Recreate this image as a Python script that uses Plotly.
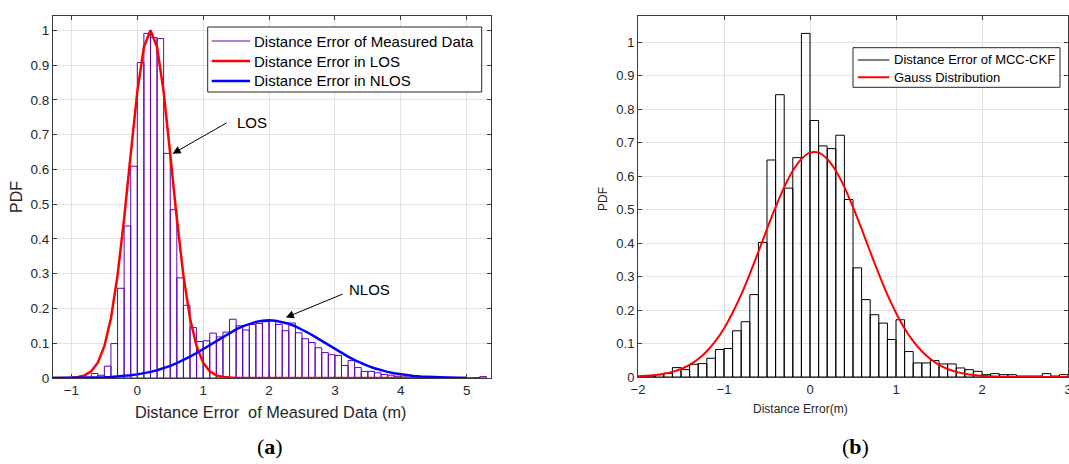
import numpy as np
import plotly.graph_objects as go

# ---------------- data: panel (a) ----------------
a_bin_left = np.round(np.arange(-0.7, 5.25, 0.1), 2)   # bin left edges, width 0.1
a_hist = [0.013, 0.008, 0.034, 0.099, 0.258, 0.437, 0.609, 0.907, 0.991, 0.979,
          0.976, 0.646, 0.484, 0.288, 0.209, 0.145, 0.105, 0.107, 0.129, 0.118,
          0.132, 0.169, 0.150, 0.138, 0.154, 0.157, 0.162, 0.165, 0.154, 0.136,
          0.158, 0.130, 0.113, 0.102, 0.087, 0.073, 0.067, 0.065, 0.036, 0.050,
          0.030, 0.019, 0.019, 0.015, 0.010, 0.008, 0.005, 0.003, 0.002, 0.002,
          0.001, 0.001, 0.001, 0.0, 0.0, 0.0, 0.0, 0.0, 0.001, 0.004]
a_curve_x = np.round(np.arange(-1.3, 5.01, 0.1), 2)
a_los = [0.0, 0.0001, 0.0003, 0.0009, 0.0027, 0.0076, 0.0192, 0.0439, 0.0914, 0.172,
         0.295, 0.458, 0.644, 0.823, 0.952, 1.0, 0.952, 0.823, 0.644, 0.458,
         0.295, 0.172, 0.0914, 0.0439, 0.0192, 0.0076, 0.0027, 0.0009, 0.0003, 0.0001] + [0.0] * 34
a_nlos = [0.0001, 0.0001, 0.0002, 0.0003, 0.0005, 0.0007, 0.0011, 0.0015, 0.0022, 0.0031,
          0.0043, 0.0058, 0.0078, 0.0104, 0.0136, 0.0176, 0.0225, 0.0282, 0.0350, 0.0428,
          0.0515, 0.0613, 0.0719, 0.0831, 0.0948, 0.1066, 0.1183, 0.1294, 0.1396, 0.1486,
          0.1560, 0.1615, 0.1649, 0.166, 0.1649, 0.1615, 0.1560, 0.1486, 0.1396, 0.1294,
          0.1183, 0.1066, 0.0948, 0.0831, 0.0719, 0.0613, 0.0515, 0.0428, 0.0350, 0.0282,
          0.0225, 0.0176, 0.0136, 0.0104, 0.0078, 0.0058, 0.0043, 0.0031, 0.0022, 0.0015,
          0.0011, 0.0007, 0.0005, 0.0003]
a_legend = ["Distance Error of Measured Data", "Distance Error in LOS", "Distance Error in NLOS"]

# ---------------- data: panel (b) ----------------
b_bin_left = np.round(np.arange(-2.0, 2.95, 0.1), 2)
b_hist = [0.002, 0.003, 0.007, 0.011, 0.028, 0.022, 0.038, 0.040, 0.056, 0.082,
          0.085, 0.138, 0.165, 0.246, 0.402, 0.648, 0.843, 0.564, 0.655, 1.026,
          0.766, 0.690, 0.682, 0.722, 0.530, 0.326, 0.231, 0.186, 0.161, 0.112,
          0.171, 0.076, 0.042, 0.042, 0.049, 0.039, 0.039, 0.027, 0.022, 0.017,
          0.007, 0.010, 0.007, 0.007, 0.003, 0.003, 0.003, 0.010, 0.003, 0.007]
b_curve_x = np.round(np.arange(-2.0, 3.01, 0.1), 2)
b_gauss = [0.0020, 0.0034, 0.0058, 0.0096, 0.0153, 0.0239, 0.0362, 0.0535, 0.0767, 0.107,
           0.145, 0.192, 0.246, 0.308, 0.374, 0.442, 0.507, 0.567, 0.616, 0.651,
           0.670, 0.670, 0.651, 0.616, 0.567, 0.507, 0.442, 0.374, 0.308, 0.246,
           0.192, 0.145, 0.107, 0.0767, 0.0535, 0.0362, 0.0239, 0.0153, 0.0096, 0.0058,
           0.0034, 0.0020, 0.0011, 0.0006, 0.0003, 0.0002, 0.0001, 0.0, 0.0, 0.0, 0.0]
b_legend = ["Distance Error of MCC-CKF", "Gauss Distribution"]

PURPLE = "#5c00b8"
FONT = "Liberation Sans"
AX = "#3a3a3a"
GRID = "#e2e2e2"
TXT = "#262626"

fig = go.Figure()

# panel (a)
fig.add_trace(go.Bar(x=a_bin_left + 0.05, y=a_hist, width=0.1, name=a_legend[0],
                     marker=dict(color="rgba(0,0,0,0)", line=dict(color=PURPLE, width=1)),
                     xaxis="x", yaxis="y", showlegend=False, hoverinfo="skip"))
fig.add_trace(go.Scatter(x=a_curve_x, y=a_los, mode="lines", name=a_legend[1],
                         line=dict(color="#ff0000", width=2.5),
                         xaxis="x", yaxis="y", showlegend=False))
fig.add_trace(go.Scatter(x=a_curve_x, y=a_nlos, mode="lines", name=a_legend[2],
                         line=dict(color="#0000ff", width=2.5),
                         xaxis="x", yaxis="y", showlegend=False))

# panel (b)
fig.add_trace(go.Bar(x=b_bin_left + 0.05, y=b_hist, width=0.1, name=b_legend[0],
                     marker=dict(color="rgba(0,0,0,0)", line=dict(color="#000000", width=1)),
                     xaxis="x2", yaxis="y2", showlegend=False, hoverinfo="skip"))
fig.add_trace(go.Scatter(x=b_curve_x, y=b_gauss, mode="lines", name=b_legend[1],
                         line=dict(color="#ff0000", width=2, shape="spline"),
                         xaxis="x2", yaxis="y2", showlegend=False))

W, H = 1069, 464

def px_x(p):
    return p / W

def px_y(p):
    return 1 - p / H

common = dict(showline=True, linecolor=AX, linewidth=1, mirror="ticks", ticks="inside",
              ticklen=4, tickcolor=AX, showgrid=True, gridcolor=GRID, gridwidth=1,
              zeroline=False, fixedrange=True, automargin=False, ticklabeloverflow="allow")

fig.update_layout(
    template="none",
    width=W, height=H, margin=dict(l=0, r=0, t=0, b=0, pad=0),
    paper_bgcolor="white", plot_bgcolor="white", barmode="overlay",
    font=dict(family=FONT, color=TXT), showlegend=False,
    xaxis=dict(domain=[px_x(53), px_x(491)], range=[-1.28, 5.37], dtick=1, tick0=0,
               anchor="y", tickfont=dict(size=13.5, color=TXT), **common),
    yaxis=dict(domain=[px_y(378), px_y(16)], range=[0, 1.041], dtick=0.1, tick0=0,
               anchor="x", tickfont=dict(size=13.5, color=TXT), **common),
    xaxis2=dict(domain=[px_x(638), px_x(1068)], range=[-2, 3], dtick=1, tick0=0,
                anchor="y2", tickfont=dict(size=13, color=TXT), **common),
    yaxis2=dict(domain=[px_y(377), px_y(16)], range=[0, 1.078], dtick=0.1, tick0=0,
                anchor="x2", tickfont=dict(size=13, color=TXT), **common),
)

shapes = []
ann = []

def legend_box(x0, y0, x1, y1, items, line_x0, line_x1, text_x, ys, fsize):
    shapes.append(dict(type="rect", xref="paper", yref="paper",
                       x0=px_x(x0), x1=px_x(x1), y0=px_y(y1), y1=px_y(y0),
                       fillcolor="white", line=dict(color=TXT, width=1), layer="above"))
    for (label, color, lw), yy in zip(items, ys):
        shapes.append(dict(type="line", xref="paper", yref="paper",
                           x0=px_x(line_x0), x1=px_x(line_x1), y0=px_y(yy), y1=px_y(yy),
                           line=dict(color=color, width=lw), layer="above"))
        ann.append(dict(text=label, x=px_x(text_x), y=px_y(yy), xref="paper", yref="paper",
                        showarrow=False, xanchor="left", yanchor="middle",
                        font=dict(size=fsize, color="#000000")))

legend_box(207.7, 27, 481.7, 92,
           [(a_legend[0], PURPLE, 1), (a_legend[1], "#ff0000", 2.5), (a_legend[2], "#0000ff", 2.5)],
           211.7, 250, 252, [41, 61, 81], 15)
legend_box(853, 47.7, 1060, 87.3,
           [(b_legend[0], "#000000", 1), (b_legend[1], "#ff0000", 2)],
           857.7, 889.3, 892, [60, 77.3], 13)

# axis labels
ann.append(dict(text="Distance Error  of Measured Data (m)", x=px_x(270), y=px_y(412),
                xref="paper", yref="paper", showarrow=False, font=dict(size=16.3, color=TXT),
                xanchor="center", yanchor="middle"))
ann.append(dict(text="PDF", x=px_x(17), y=px_y(197), xref="paper", yref="paper", showarrow=False,
                textangle=-90, font=dict(size=16, color=TXT), xanchor="center", yanchor="middle"))
ann.append(dict(text="Distance Error(m)", x=px_x(800), y=px_y(409), xref="paper", yref="paper",
                showarrow=False, font=dict(size=12, color=TXT), xanchor="center", yanchor="middle"))
ann.append(dict(text="PDF", x=px_x(603), y=px_y(199), xref="paper", yref="paper", showarrow=False,
                textangle=-90, font=dict(size=12, color=TXT), xanchor="center", yanchor="middle"))
# captions
ann.append(dict(text="(<b>a</b>)", x=px_x(270), y=px_y(446), xref="paper", yref="paper",
                showarrow=False, font=dict(size=22, color="#000000", family="Liberation Serif"),
                xanchor="center", yanchor="middle"))
ann.append(dict(text="(<b>b</b>)", x=px_x(855), y=px_y(446), xref="paper", yref="paper",
                showarrow=False, font=dict(size=22, color="#000000", family="Liberation Serif"),
                xanchor="center", yanchor="middle"))
# text arrows in panel (a)
ann.append(dict(text="LOS", x=1.735, y=0.735, xref="x", yref="y", showarrow=False,
                font=dict(size=15, color="#000000")))
ann.append(dict(text="", x=0.536, y=0.645, ax=1.378, ay=0.736, xref="x", yref="y",
                axref="x", ayref="y", showarrow=True, arrowhead=2, arrowsize=1.6,
                arrowwidth=1, arrowcolor="#000000"))
ann.append(dict(text="NLOS", x=3.531, y=0.255, xref="x", yref="y", showarrow=False,
                font=dict(size=15, color="#000000")))
ann.append(dict(text="", x=2.256, y=0.174, ax=3.139, ay=0.243, xref="x", yref="y",
                axref="x", ayref="y", showarrow=True, arrowhead=2, arrowsize=1.6,
                arrowwidth=1, arrowcolor="#000000"))
fig.update_layout(annotations=ann, shapes=shapes)

fig.write_html("out.html", config={"displayModeBar": False, "staticPlot": True},
               post_script="document.body.style.margin='0';document.body.style.padding='0';")
